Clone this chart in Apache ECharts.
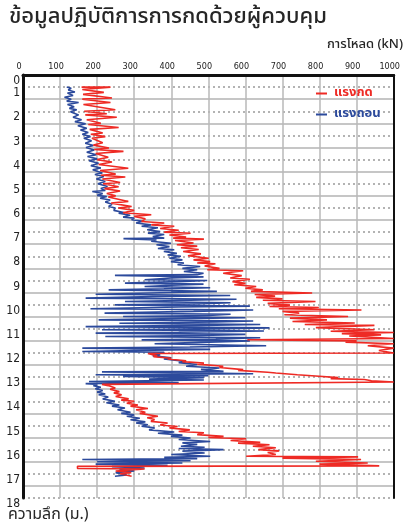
<!DOCTYPE html>
<html>
<head>
<meta charset="utf-8">
<script src="https://cdn.jsdelivr.net/npm/echarts@6/dist/echarts.min.js"></script>
<style>
  html, body { margin: 0; padding: 0; background: #fff; }
  #chart { width: 403px; height: 530px; }
</style>
</head>
<body>
<div id="chart"></div>
<script>
// Jacking log: load (kN) against depth (m), press and pull strokes.
const loadTicks = [0, 100, 200, 300, 400, 500, 600, 700, 800, 900, 1000];
const depthTicks = [1, 2, 3, 4, 5, 6, 7, 8, 9, 10, 11, 12, 13, 14, 15, 16, 17, 18];
const halfDepthTicks = [1.5, 2.5, 3.5, 4.5, 5.5, 6.5, 7.5, 8.5, 9.5, 10.5, 11.5, 12.5, 13.5, 14.5, 15.5, 16.5, 17.5];

// [depth m, load kN] in recorded order
const pressCurve = [
  [1.00,158],[1.00,236],[1.10,160],[1.22,218],[1.30,162],[1.45,240],[1.50,160],[1.64,236],[1.72,163],[1.94,249],
  [2.00,165],[2.10,226],[2.15,168],[2.25,253],[2.35,172],[2.50,210],[2.55,176],[2.67,258],[2.75,180],[2.90,215],
  [2.95,183],[3.05,222],[3.12,186],[3.30,215],[3.40,190],[3.52,232],[3.58,192],[3.66,271],[3.75,196],[3.90,230],
  [4.00,200],[4.10,240],[4.20,204],[4.36,284],[4.45,208],[4.60,250],[4.65,210],[4.72,276],[4.80,214],[4.95,262],
  [5.00,216],[5.12,258],[5.20,220],[5.30,262],[5.40,226],[5.50,250],[5.55,230],[5.73,284],[5.80,238],[5.94,293],
  [6.00,257],[6.10,300],[6.20,270],[6.28,346],[6.35,300],[6.45,330],[6.56,320],[6.62,381],[6.70,346],[6.76,408],
  [6.85,370],[6.92,420],[7.00,381],[7.05,452],[7.12,395],[7.20,440],[7.25,405],[7.29,488],[7.35,410],[7.45,460],
  [7.52,415],[7.58,470],[7.65,426],[7.72,474],[7.80,432],[7.90,480],[7.98,445],[8.08,501],[8.15,460],[8.22,505],
  [8.28,470],[8.31,519],[8.40,490],[8.50,530],[8.56,497],[8.60,594],[8.70,540],[8.80,590],[8.90,559],[8.95,612],
  [9.05,565],[9.12,600],[9.18,570],[9.25,629],[9.32,600],[9.39,647],[9.45,615],[9.52,780],[9.58,625],[9.65,680],
  [9.70,629],[9.76,700],[9.82,647],[9.87,789],[9.95,660],[10.02,720],[10.08,665],[10.12,798],[10.17,690],[10.22,913],
  [10.28,700],[10.35,745],[10.42,705],[10.49,877],[10.56,720],[10.63,820],[10.70,727],[10.76,895],[10.82,760],[10.86,948],
  [10.95,790],[11.04,948],[11.10,830],[11.15,1000],[11.20,860],[11.25,966],[11.30,880],[11.40,1000],[11.45,605],[11.50,900],
  [11.55,870],[11.62,1000],[11.70,930],[11.80,1000],[11.90,960],[12.00,1000],[12.02,337],[12.07,340],[12.12,362],[12.15,352],
  [12.22,400],[12.25,390],[12.32,440],[12.36,430],[12.42,488],[12.46,470],[12.55,540],[12.60,530],[12.69,594],[12.72,580],
  [12.80,660],[12.83,682],[12.90,740],[12.95,789],[13.02,850],[13.06,830],[13.10,921],[13.15,940],[13.20,1000],[13.27,1000],
  [13.30,213],[13.35,230],[13.45,249],[13.50,235],[13.60,260],[13.65,245],[13.73,266],[13.80,250],[13.90,285],[13.95,265],
  [14.00,300],[14.08,280],[14.15,310],[14.20,290],[14.30,337],[14.35,305],[14.45,330],[14.50,315],[14.62,364],[14.68,335],
  [14.75,355],[14.83,345],[14.90,390],[14.98,370],[15.04,417],[15.10,395],[15.18,450],[15.25,420],[15.30,488],[15.38,470],
  [15.45,541],[15.50,500],[15.55,602],[15.62,560],[15.70,640],[15.73,580],[15.80,665],[15.86,620],[15.92,682],[16.00,635],
  [16.05,691],[16.12,660],[16.20,682],[16.27,602],[16.30,904],[16.35,700],[16.41,912],[16.48,790],[16.55,930],[16.60,800],
  [16.67,961],[16.69,147],[16.78,147],[16.80,328],[16.88,250],[16.95,292],[17.00,262],[17.10,293]
];

const pullCurve = [
  [1.00,118],[1.05,130],[1.12,122],[1.20,140],[1.25,120],[1.35,135],[1.42,112],[1.50,130],[1.58,118],[1.64,150],
  [1.72,120],[1.81,138],[1.88,125],[1.94,145],[2.02,128],[2.15,150],[2.25,135],[2.35,158],[2.43,140],[2.52,169],
  [2.60,148],[2.70,172],[2.78,155],[2.88,176],[2.95,160],[3.05,182],[3.12,164],[3.22,185],[3.32,168],[3.42,190],
  [3.50,170],[3.60,192],[3.70,172],[3.80,198],[3.87,174],[3.97,200],[4.05,178],[4.15,204],[4.25,183],[4.35,210],
  [4.42,188],[4.55,214],[4.62,194],[4.70,218],[4.80,198],[4.91,222],[5.00,202],[5.11,228],[5.20,210],[5.28,222],
  [5.32,187],[5.40,215],[5.48,200],[5.53,226],[5.60,208],[5.67,235],[5.75,222],[5.85,240],[5.94,231],[6.00,249],
  [6.10,245],[6.20,275],[6.22,258],[6.30,289],[6.38,270],[6.42,300],[6.49,293],[6.55,324],[6.62,305],[6.70,345],
  [6.76,320],[6.82,364],[6.90,335],[6.98,370],[7.04,337],[7.10,381],[7.18,350],[7.25,381],[7.27,271],[7.32,360],
  [7.38,346],[7.46,399],[7.52,360],[7.60,395],[7.68,364],[7.73,408],[7.80,380],[7.88,415],[7.95,390],[8.00,426],
  [8.08,395],[8.15,430],[8.22,399],[8.28,434],[8.35,417],[8.42,478],[8.50,430],[8.56,470],[8.63,434],[8.70,487],
  [8.76,470],[8.79,248],[8.85,487],[8.90,400],[8.97,328],[9.00,497],[9.05,420],[9.11,275],[9.15,487],[9.20,400],
  [9.25,328],[9.30,505],[9.35,380],[9.39,231],[9.45,523],[9.50,400],[9.57,196],[9.62,559],[9.67,350],[9.73,169],
  [9.78,576],[9.83,420],[9.87,275],[9.92,560],[9.97,470],[10.01,248],[10.06,612],[10.10,420],[10.17,182],[10.22,621],
  [10.28,460],[10.35,220],[10.40,560],[10.45,500],[10.49,270],[10.54,600],[10.58,420],[10.63,204],[10.68,621],[10.72,520],
  [10.77,260],[10.82,640],[10.86,480],[10.91,169],[10.96,665],[11.00,550],[11.04,213],[11.09,650],[11.14,420],[11.18,196],
  [11.23,600],[11.28,480],[11.32,222],[11.37,640],[11.42,520],[11.46,320],[11.50,612],[11.56,480],[11.62,355],[11.70,656],
  [11.75,450],[11.80,160],[11.85,505],[11.90,300],[11.94,160],[11.97,381],[12.00,340],[12.07,370],[12.12,350],[12.20,400],
  [12.25,380],[12.35,440],[12.40,420],[12.48,470],[12.55,440],[12.62,530],[12.68,480],[12.76,541],[12.78,213],[12.82,450],
  [12.86,621],[12.90,196],[12.94,500],[12.97,270],[13.02,488],[13.08,340],[13.12,488],[13.18,178],[13.22,420],[13.27,169],
  [13.30,200],[13.35,190],[13.42,210],[13.48,195],[13.55,215],[13.62,200],[13.70,222],[13.73,204],[13.82,230],[13.90,215],
  [14.00,248],[14.06,225],[14.15,260],[14.20,240],[14.28,275],[14.35,255],[14.45,290],[14.50,265],[14.56,300],[14.62,280],
  [14.70,315],[14.76,290],[14.85,330],[14.90,305],[14.97,337],[15.03,320],[15.10,355],[15.18,340],[15.27,408],[15.32,364],
  [15.40,430],[15.45,399],[15.52,452],[15.58,420],[15.66,505],[15.72,430],[15.78,470],[15.86,426],[15.90,490],[15.95,420],
  [16.00,541],[16.06,430],[16.14,490],[16.20,400],[16.27,505],[16.32,381],[16.37,470],[16.41,160],[16.46,452],[16.50,200],
  [16.55,430],[16.60,196],[16.65,390],[16.70,240],[16.76,328],[16.80,260],[16.88,300],[16.95,250],[17.05,280],[17.10,248]
];

const seriesNames = ['แรงกด', 'แรงถอน'];
const seriesColors = ['#ee2a24', '#2c4a9c'];

const thaiFont = '"Noto Sans Thai", "Noto Sans Thai UI", Loma, Garuda, "Noto Sans", "DejaVu Sans", sans-serif';
const narrowFont = '"Liberation Sans Narrow", "Arial Narrow", "DejaVu Sans Condensed", "Roboto Condensed", sans-serif';

const toXY = pts => pts.map(p => [p[1], p[0]]);

const chart = echarts.init(document.getElementById('chart'), null, { renderer: 'canvas' });

chart.setOption({
  backgroundColor: '#ffffff',
  animation: false,
  grid: { left: 23, right: 4, top: 75, bottom: 32, containLabel: false },
  graphic: [
    { type: 'text', left: 9, top: 8, style: { text: 'ข้อมูลปฏิบัติการการกดด้วยผู้ควบคุม', font: '500 22px ' + thaiFont, fill: '#262626' } },
    { type: 'text', right: 0, top: 39, style: { text: 'การโหลด (kN)', font: '500 13px ' + thaiFont, fill: '#262626' } },
    { type: 'text', left: 8, top: 508, style: { text: 'ความลึก (ม.)', font: '16px ' + thaiFont, fill: '#262626' } }
  ],
  legend: {
    orient: 'vertical',
    left: 311,
    top: 82,
    itemGap: 8,
    itemWidth: 11,
    itemHeight: 2,
    icon: 'rect',
    data: seriesNames.map((n, i) => ({ name: n, textStyle: { color: seriesColors[i] } })),
    textStyle: { fontSize: 13, fontWeight: 'bold', fontFamily: thaiFont, padding: [0, 0, 0, 2] }
  },
  xAxis: {
    type: 'value',
    position: 'top',
    min: loadTicks[0],
    max: loadTicks[loadTicks.length - 1],
    interval: 100,
    axisLine: { show: true, onZero: false, lineStyle: { color: '#111', width: 3 } },
    axisTick: { show: false },
    axisLabel: {
      formatter: v => String(v),
      fontSize: 9,
      color: '#222',
      fontFamily: narrowFont,
      margin: 4,
      padding: [0, 8, 0, 0]
    },
    splitLine: { show: true, lineStyle: { color: '#b8b8b8', width: 1.5 } }
  },
  yAxis: [
    {
      type: 'value',
      inverse: true,
      min: 0.5,
      max: 18,
      position: 'left',
      axisLine: { show: true, onZero: false, lineStyle: { color: '#111', width: 3 } },
      axisTick: { show: false, customValues: halfDepthTicks },
      axisLabel: { show: false },
      splitLine: { show: true, lineStyle: { color: '#b3b3b3', width: 1.5 } }
    },
    {
      type: 'value',
      inverse: true,
      min: 0.5,
      max: 18,
      position: 'left',
      axisLine: { show: false },
      axisTick: { show: false, customValues: depthTicks },
      axisLabel: {
        customValues: [0.5].concat(depthTicks),
        formatter: v => (v < 1 ? '0' : String(v)),
        fontSize: 12,
        color: '#222',
        fontFamily: narrowFont,
        margin: 3,
        verticalAlign: 'top'
      },
      splitLine: { show: true, lineStyle: { color: '#9a9a9a', width: 1.5, type: [2, 3] } }
    },
    {
      type: 'value',
      inverse: true,
      min: 0.5,
      max: 18,
      position: 'right',
      axisLine: { show: true, onZero: false, lineStyle: { color: '#111', width: 2 } },
      axisTick: { show: false },
      axisLabel: { show: false },
      splitLine: { show: false }
    }
  ],
  series: [
    {
      name: seriesNames[1],
      type: 'line',
      yAxisIndex: 0,
      data: toXY(pullCurve),
      showSymbol: false,
      symbol: 'none',
      lineStyle: { color: seriesColors[1], width: 1.6 },
      itemStyle: { color: seriesColors[1] },
      z: 3
    },
    {
      name: seriesNames[0],
      type: 'line',
      yAxisIndex: 0,
      data: toXY(pressCurve),
      showSymbol: false,
      symbol: 'none',
      lineStyle: { color: seriesColors[0], width: 1.6 },
      itemStyle: { color: seriesColors[0] },
      z: 4
    }
  ]
});
</script>
</body>
</html>
